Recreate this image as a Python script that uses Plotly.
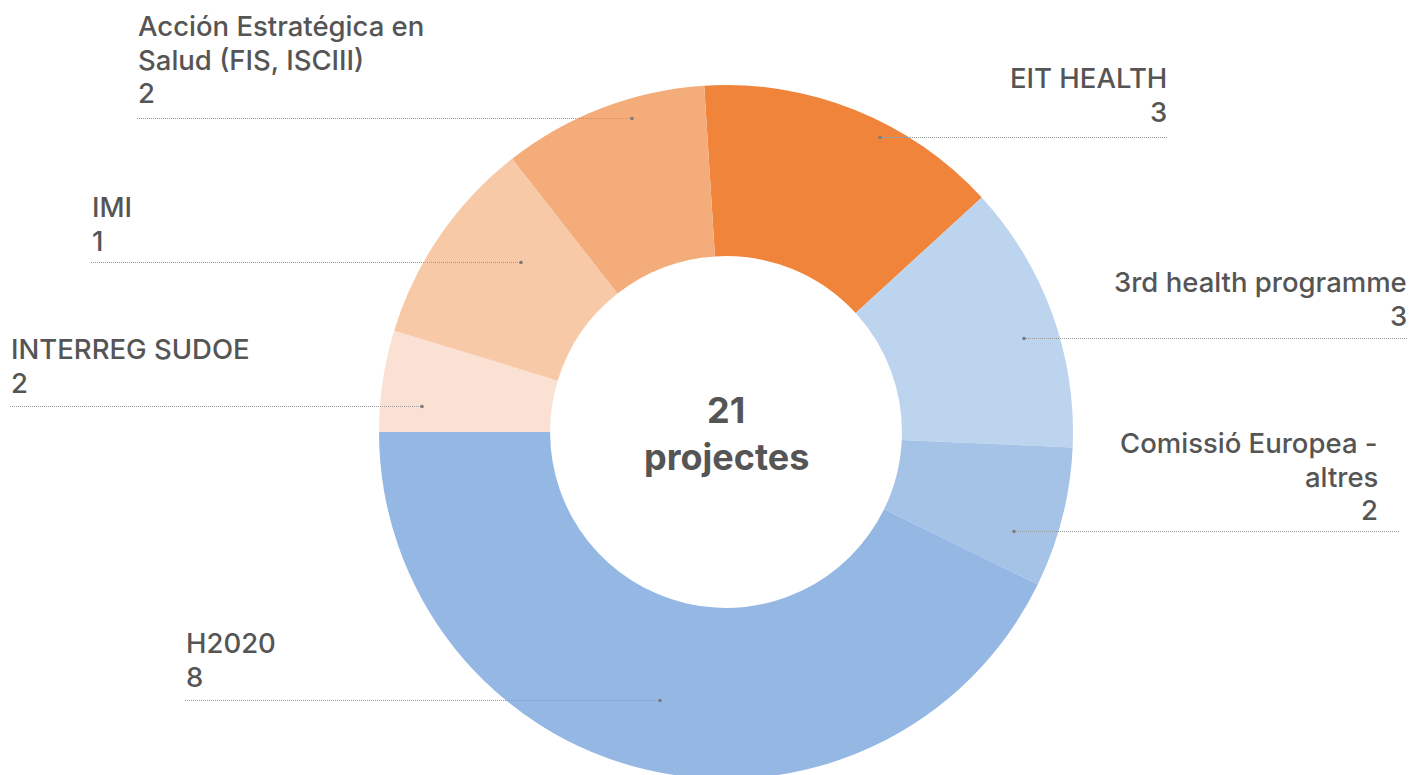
import plotly.graph_objects as go

# ---------------- data ----------------
categories = ["EIT HEALTH", "3rd health programme", "Comissió Europea - altres",
              "H2020", "INTERREG SUDOE", "IMI",
              "Acción Estratégica en Salud (FIS, ISCIII)"]
label_lines = [["EIT HEALTH"], ["3rd health programme"], ["Comissió Europea -", "altres"],
               ["H2020"], ["INTERREG SUDOE"], ["IMI"],
               ["Acción Estratégica en", "Salud (FIS, ISCIII)"]]
project_counts = [3, 3, 2, 8, 2, 1, 2]
# arc share of each slice as drawn in the picture
slice_sizes = [2.98, 2.63, 1.37, 8.98, 0.99, 2.04, 2.01]
center_word = "projectes"

# ---------------- styles ----------------
colors = ["#EF843A", "#BDD4EF", "#A4C3E7", "#94B8E3", "#FBE1D3", "#F8C9A7", "#F4AC7A"]
W, H = 1412, 779   # window is 775 tall; the donut bottom is clipped as in the reference
TEXT_COLOR = "#555555"
FONT = "Inter"
FS = 27.5
LINE_STEP = 33.5

# label layout: side, text x, first baseline, leader y, leader x0, leader x1, dot x
label_pos = [
    ("right", 1168, 88, 137, 880, 1168, 880),
    ("right", 1408, 292, 338, 1024, 1408, 1024),
    ("right", 1379, 453, 531, 1014, 1399, 1014),
    ("left", 185, 653, 700, 185, 660, 660),
    ("left", 10, 359, 406, 10, 422, 422),
    ("left", 91, 217, 262, 91, 521, 521),
    ("left", 137, 36, 118, 137, 632, 632),
]

def px(x):
    return x / W

def py(y):
    return 1 - y / H

cx, cy, r = 726, 432, 347

fig = go.Figure(go.Pie(
    labels=categories,
    values=slice_sizes,
    customdata=project_counts,
    marker=dict(colors=colors, line=dict(width=0)),
    hole=0.507,
    sort=False,
    direction="clockwise",
    rotation=-3.6,
    textinfo="none",
    hovertemplate="%{label}: %{customdata}<extra></extra>",
    domain=dict(x=[px(cx - r), px(cx + r)], y=[max(0, py(cy + r)), py(cy - r)]),
    showlegend=False,
))

annotations = []
shapes = []
for lines, count, (side, tx, b0, ly, lx0, lx1, dx) in zip(label_lines, project_counts, label_pos):
    all_lines = lines + [str(count)]
    for i, t in enumerate(all_lines):
        base = b0 + i * LINE_STEP
        annotations.append(dict(
            text=t, x=px(tx), y=py(base - 0.36 * FS), xref="paper", yref="paper",
            xanchor=side, yanchor="middle", showarrow=False, borderpad=0,
            font=dict(family=FONT, size=FS, color=TEXT_COLOR, weight=500), align=side,
        ))
    shapes.append(dict(
        type="line", xref="paper", yref="paper",
        x0=px(lx0), x1=px(lx1), y0=py(ly + 0.5), y1=py(ly + 0.5),
        line=dict(color="#9a9a9a", width=1, dash="1px,1px"),
    ))
    shapes.append(dict(
        type="circle", xref="paper", yref="paper",
        xsizemode="pixel", ysizemode="pixel",
        xanchor=px(dx), yanchor=py(ly + 0.5),
        x0=-1.8, x1=1.8, y0=-1.8, y1=1.8,
        fillcolor="#7a7a7a", line=dict(width=0),
    ))

CFS = 36
total = sum(project_counts)
for t, base in [(str(total), 423), (center_word, 470)]:
    annotations.append(dict(
        text="<b>%s</b>" % t, x=px(cx), y=py(base - 0.36 * CFS), xref="paper", yref="paper",
        xanchor="center", yanchor="middle", showarrow=False, borderpad=0,
        font=dict(family=FONT, size=CFS, color=TEXT_COLOR),
    ))

fig.update_layout(
    width=W, height=H,
    margin=dict(l=0, r=0, t=0, b=0),
    paper_bgcolor="white", plot_bgcolor="white",
    annotations=annotations, shapes=shapes,
)

fig.write_html("out.html",
               config={"displayModeBar": False},
               post_script="document.body.style.margin='0';document.body.style.overflow='hidden';")
